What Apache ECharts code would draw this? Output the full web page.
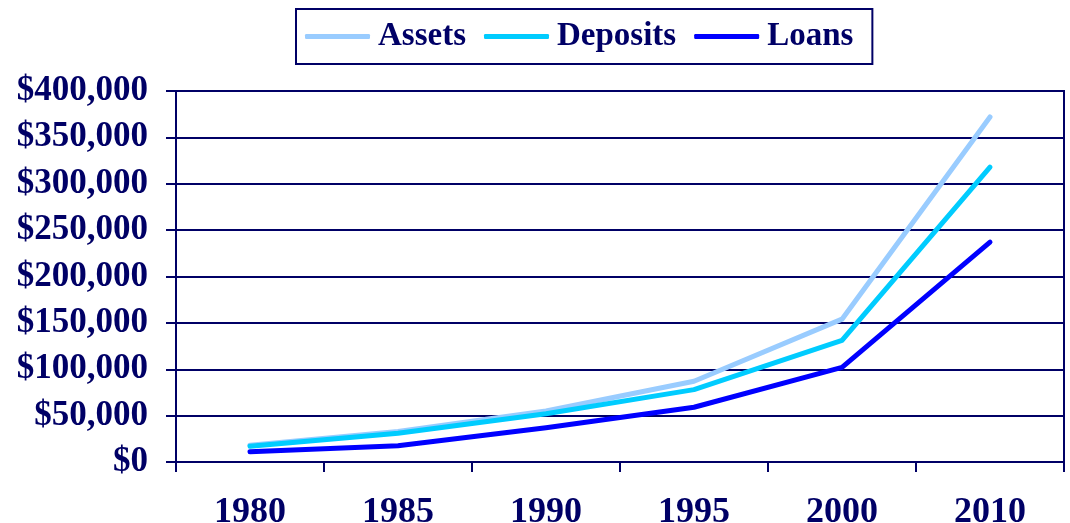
<!DOCTYPE html>
<html>
<head>
<meta charset="utf-8">
<script src="https://cdn.jsdelivr.net/npm/echarts@6/dist/echarts.min.js"></script>
<style>
html,body{margin:0;padding:0;background:#fff;}
#chart{width:1070px;height:523px;}
</style>
</head>
<body>
<div id="chart"></div>
<script>
const categories = ['1980', '1985', '1990', '1995', '2000', '2010'];
const assets   = [18000, 33000, 55000, 87000, 154000, 372000];
const deposits = [17000, 31000, 52000, 78000, 131000, 318000];
const loans    = [11000, 17500, 37000, 59000, 102000, 237000];
const seriesNames = ['Assets', 'Deposits', 'Loans'];
const yTicks = { min: 0, max: 400000, interval: 50000 };

const NAVY = '#000066';
const FONT = '"Liberation Serif", "Times New Roman", serif';
const colors = ['#99CCFF', '#00CCFF', '#0000FF'];

const chart = echarts.init(document.getElementById('chart'));
const mk = (name, data, color) => ({
  name, type: 'line', data, symbol: 'none', smooth: false,
  lineStyle: { color, width: 5, cap: 'round', join: 'round' },
  itemStyle: { color },
  animation: false
});
chart.setOption({
  backgroundColor: '#fff',
  animation: false,
  color: colors,
  legend: {
    data: seriesNames,
    left: 296, top: 9,
    padding: [11, 19, 11, 9],
    borderColor: NAVY, borderWidth: 2,
    itemWidth: 65, itemHeight: 5, itemGap: 18,
    icon: 'roundRect',
    textStyle: { color: NAVY, fontFamily: FONT, fontWeight: 'bold', fontSize: 33, padding: [0, 0, 0, 3] }
  },
  grid: { left: 176, right: 6, top: 91, bottom: 61, show: true, borderColor: NAVY, borderWidth: 2,
          containLabel: false, outerBoundsMode: 'none' },
  xAxis: {
    type: 'category', data: categories, boundaryGap: true,
    axisLine: { lineStyle: { color: NAVY, width: 2 } },
    axisTick: { show: true, interval: 0, length: 10, alignWithLabel: false, lineStyle: { color: NAVY, width: 2 } },
    axisLabel: { color: NAVY, fontFamily: FONT, fontWeight: 'bold', fontSize: 36, margin: 33, interval: 0 }
  },
  yAxis: {
    type: 'value', min: yTicks.min, max: yTicks.max, interval: yTicks.interval,
    axisLine: { show: true, lineStyle: { color: NAVY, width: 2 } },
    axisTick: { show: true, length: 10, lineStyle: { color: NAVY, width: 2 } },
    splitLine: { show: true, lineStyle: { color: NAVY, width: 2 } },
    axisLabel: {
      color: NAVY, fontFamily: FONT, fontWeight: 'bold', fontSize: 35, margin: 28,
      formatter: v => '$' + v.toLocaleString('en-US')
    }
  },
  series: [mk(seriesNames[0], assets, colors[0]), mk(seriesNames[1], deposits, colors[1]), mk(seriesNames[2], loans, colors[2])]
});
</script>
</body>
</html>
